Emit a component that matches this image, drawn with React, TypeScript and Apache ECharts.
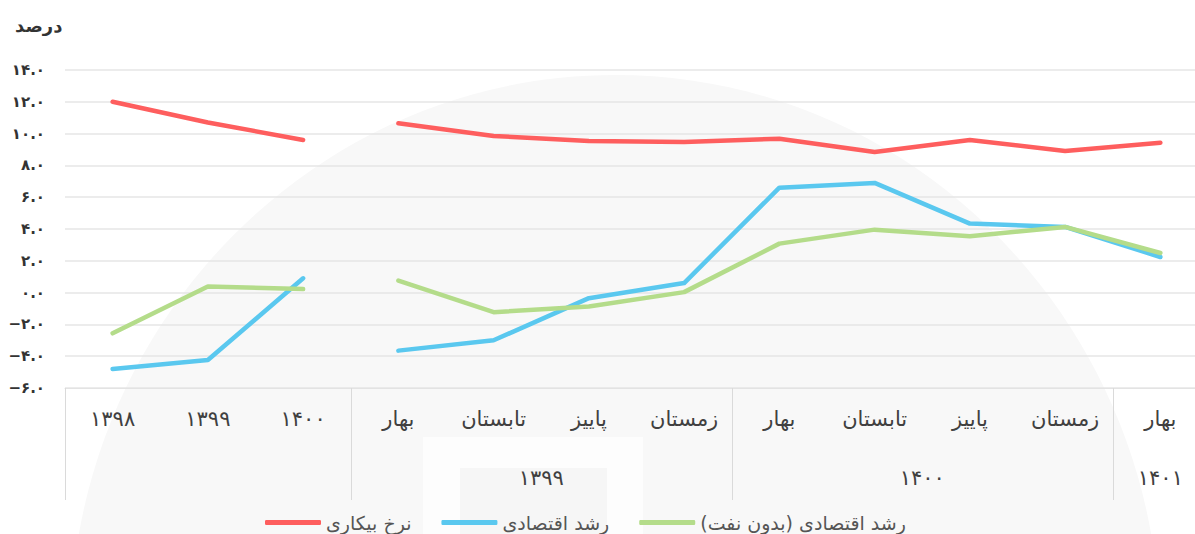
import React, { useEffect, useRef } from "react";
import * as echarts from "echarts";

// ---- data ----
const categories = [
  "۱۳۹۸", "۱۳۹۹", "۱۴۰۰",
  "بهار", "تابستان", "پاییز", "زمستان",
  "بهار", "تابستان", "پاییز", "زمستان",
  "بهار",
];
const groups = [
  { name: "۱۳۹۹", from: 3, to: 6 },
  { name: "۱۴۰۰", from: 7, to: 10 },
  { name: "۱۴۰۱", from: 11, to: 11 },
];
const dividers = [0, 3, 7, 11];
const annualCount = 3;

const seriesNames = ["نرخ بیکاری", "رشد اقتصادی", "رشد اقتصادی (بدون نفت)"];
const unemployment = [12.0, 10.7, 9.6, 10.65, 9.85, 9.53, 9.47, 9.68, 8.84, 9.6, 8.9, 9.43];
const growth = [-4.8, -4.24, 0.9, -3.65, -3.0, -0.35, 0.6, 6.6, 6.9, 4.34, 4.13, 2.24];
const growthNonOil = [-2.56, 0.39, 0.22, 0.76, -1.23, -0.87, 0.03, 3.08, 3.96, 3.54, 4.13, 2.49];
const colors = ["#fe5e5e", "#5ac8ef", "#b4dc8a"];

const yMin = -6;
const yMax = 14;
const yStep = 2;

const toFa = (s: string) =>
  s.replace(/\d/g, (d) => "۰۱۲۳۴۵۶۷۸۹"[+d]).replace("-", "−");

const FONT = "'DejaVu Sans', 'Noto Sans', sans-serif";

export default function App() {
  const ref = useRef<HTMLDivElement>(null);
  useEffect(() => {
    if (!ref.current) return;
    const chart = echarts.init(ref.current, null, { renderer: "svg" });

    const values = [unemployment, growth, growthNonOil];
    const series: any[] = [];
    values.forEach((vals, i) => {
      const first = vals.map((v, k) => (k < annualCount ? v : null));
      const second = vals.map((v, k) => (k >= annualCount ? v : null));
      [first, second].forEach((d) => {
        series.push({
          name: seriesNames[i],
          type: "line",
          data: d,
          xAxisIndex: 0,
          showSymbol: false,
          symbol: "none",
          connectNulls: false,
          color: colors[i],
          lineStyle: { width: 4.5, color: colors[i], cap: "round", join: "round" },
          z: 3 + i,
        });
      });
    });

    const groupAt: Record<string, string> = {};
    groups.forEach((g) => {
      groupAt[String((g.from + g.to + 1) / 2)] = g.name;
    });

    chart.setOption({
      animation: false,
      backgroundColor: "#ffffff",
      textStyle: { fontFamily: FONT },
      title: {
        text: "درصد",
        left: 10,
        top: 11,
        textStyle: { fontSize: 18, fontWeight: "bold", color: "#333", fontFamily: FONT },
      },
      graphic: [
        {
          type: "ellipse",
          z: -10,
          silent: true,
          shape: { cx: 615, cy: 635, rx: 545, ry: 560 },
          style: { fill: "#f8f8f8" },
        },
        {
          type: "rect",
          z: -9,
          silent: true,
          shape: { x: 423, y: 437, width: 220, height: 100 },
          style: { fill: "#fdfdfd" },
        },
        {
          type: "rect",
          z: -8,
          silent: true,
          shape: { x: 460, y: 468, width: 147, height: 70 },
          style: { fill: "#f6f6f6" },
        },
      ],
      legend: {
        data: seriesNames,
        left: 260,
        top: 508,
        icon: "roundRect",
        itemWidth: 56,
        itemHeight: 5,
        itemGap: 30,
        textStyle: { fontSize: 19, color: "#555", fontFamily: FONT },
      },
      grid: { left: 65, top: 70, right: 12, bottom: 146, containLabel: false },
      xAxis: [
        {
          type: "category",
          data: categories,
          boundaryGap: true,
          axisLine: { show: true, onZero: false, lineStyle: { color: "#e3e3e3", width: 1 } },
          axisTick: {
            show: true,
            length: 112,
            interval: (index: number) => dividers.includes(index),
            lineStyle: { color: "#dadada", width: 1 },
          },
          axisLabel: {
            interval: 0,
            margin: 20,
            fontSize: 21,
            color: "#404040",
            fontFamily: FONT,
          },
          splitLine: { show: false },
        },
        {
          type: "value",
          position: "bottom",
          min: 0,
          max: categories.length,
          interval: 0.5,
          axisLine: { show: false, onZero: false },
          axisTick: { show: false },
          splitLine: { show: false },
          axisLabel: {
            margin: 79,
            fontSize: 21,
            color: "#404040",
            fontFamily: FONT,
            showMinLabel: true,
            showMaxLabel: true,
            formatter: (v: number) => groupAt[String(v)] || "",
          },
        },
      ],
      yAxis: {
        type: "value",
        min: yMin,
        max: yMax,
        interval: yStep,
        axisLine: { show: false },
        axisTick: { show: false },
        splitLine: { show: true, lineStyle: { color: "#e6e6e6", width: 1.5 } },
        axisLabel: {
          margin: 20,
          fontSize: 15,
          fontWeight: "bold",
          color: "#333",
          fontFamily: FONT,
          formatter: (v: number) => toFa(v.toFixed(1)),
        },
      },
      series,
    });

    return () => chart.dispose();
  }, []);

  return (
    <div
      style={{
        position: "absolute",
        left: 0,
        top: 0,
        width: 1195,
        height: 534,
        overflow: "hidden",
        background: "#fff",
      }}
    >
      <div ref={ref} style={{ width: 1220, height: 534 }} />
    </div>
  );
}
